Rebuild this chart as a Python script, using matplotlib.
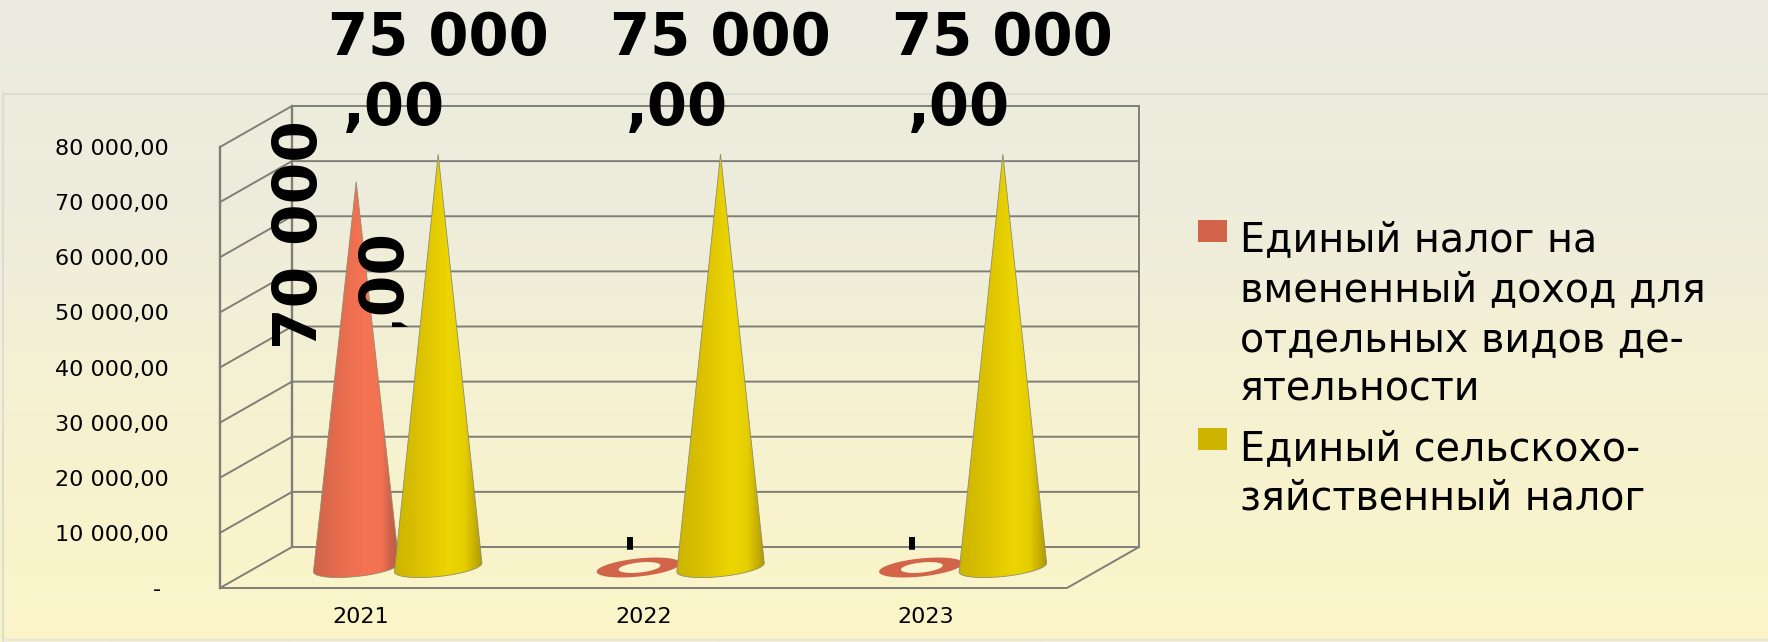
import numpy as np
import matplotlib
matplotlib.use("Agg")
import matplotlib.pyplot as plt
from matplotlib.colors import LinearSegmentedColormap
from matplotlib.patches import Polygon, Rectangle
from matplotlib.transforms import Bbox, IdentityTransform, TransformedBbox

plt.rcParams['font.family'] = ['DejaVu Sans']

# data
years = ["2021", "2022", "2023"]
envd = [70000, 0, 0]
eshn = [75000, 75000, 75000]
y_ticks = [0, 10000, 20000, 30000, 40000, 50000, 60000, 70000, 80000]
y_tick_labels = ["- ", "10 000,00", "20 000,00", "30 000,00", "40 000,00",
                 "50 000,00", "60 000,00", "70 000,00", "80 000,00"]
legend_names = ["Единый налог на\nвмененный доход для\nотдельных видов де-\nятельности",
                "Единый сельскохо-\nзяйственный налог"]

W, H = 1768, 642
GRID = "#7f7f78"
INK = "#000000"
stops = [0, 0.3, 0.62, 0.8, 0.93, 1]
red_cmap = LinearSegmentedColormap.from_list("r", list(zip(stops, ["#d2644a", "#e56c4e", "#f57453", "#f27252", "#c9604a", "#bb5a45"])))
yel_cmap = LinearSegmentedColormap.from_list("y", list(zip(stops, ["#cdb400", "#dcc200", "#ecd500", "#e6cf00", "#c4ac00", "#ad9a00"])))

fig = plt.figure(figsize=(W / 100, H / 100), dpi=100)

# background gradient
bg = fig.add_axes([0, 0, 1, 1], zorder=0)
bg.imshow(np.linspace(0, 1, 256).reshape(-1, 1), aspect="auto", extent=(0, W, H, 0),
          cmap=LinearSegmentedColormap.from_list("bg", ["#ebebe0", "#eeeddc", "#f6f2d0", "#fbf5c8"]))
bg.plot([3, W], [94, 94], color="#dcdcd6", lw=1.5)
bg.plot([3, 3], [94, H], color="#dcdcd6", lw=1.5)
bg.plot([3, W], [640, 640], color="#e4e4dc", lw=1.5)
bg.set_xlim(0, W)
bg.set_ylim(H, 0)
bg.axis("off")

# front plane of the 3d box
X0, X1, Y0, Y1 = 220, 1067, 588, 147
ax = fig.add_axes([X0 / W, 1 - Y0 / H, (X1 - X0) / W, (Y0 - Y1) / H], zorder=1)
ax.patch.set_alpha(0)
ax.set_xlim(0, 3)
ax.set_ylim(0, 80000)
for s in ax.spines.values():
    s.set_visible(False)
PX = 3 / (X1 - X0)
PY = 80000 / (Y0 - Y1)
DX, DY = 72 * PX, 41 * PY

for v in y_ticks:
    ax.plot([0, DX, 3 + DX], [v, v + DY, v + DY], color=GRID, lw=1.4, clip_on=False, zorder=1)
ax.plot([0, 0], [0, 80000], color=GRID, lw=1.7, clip_on=False, zorder=1)
ax.plot([DX, DX], [DY, 80000 + DY], color=GRID, lw=1.7, clip_on=False, zorder=1)
ax.plot([3 + DX, 3 + DX], [DY, 80000 + DY], color=GRID, lw=1.4, clip_on=False, zorder=1)
ax.plot([0, 3, 3 + DX], [0, 0, DY], color=GRID, lw=1.4, clip_on=False, zorder=1)

ax.set_yticks(y_ticks, y_tick_labels, fontsize=16, color=INK)
ax.set_xticks(np.arange(3) + 0.5, years, fontsize=16, color=INK)
ax.tick_params(axis="y", length=0, pad=37)
ax.tick_params(axis="x", length=0, pad=14)


def ellipse(cx, cy, a, b, start=0, stop=360, tilt=6):
    t = np.radians(np.linspace(start, stop, 90))
    th = np.radians(tilt)
    ex = a * np.cos(t)
    ey = b * np.sin(t)
    return np.column_stack([cx + (ex * np.cos(th) - ey * np.sin(th)) * PX,
                            cy + (ex * np.sin(th) + ey * np.cos(th)) * PY])


def cone(i, shift, value, cmap, a, z):
    cx = i + 0.5 + DX / 2 + shift * PX
    cy = DY / 2
    if value == 0:
        ax.add_patch(Polygon(ellipse(cx, cy, 42, 9), closed=True, fc=cmap(0.0), ec="none", zorder=z))
        ax.add_patch(Polygon(ellipse(cx + 1 * PX, cy, 21, 5), closed=True, fc="#fbf6cf", ec="none", zorder=z))
        return cx
    pts = np.vstack([[[cx, cy + value]], ellipse(cx, cy, a, 9, 180, 360)])
    poly = Polygon(pts, closed=True, fc="none", ec="#8f8f70", lw=0.6, zorder=z + 0.1)
    ax.add_patch(poly)
    im = ax.imshow(np.linspace(0, 1, 64).reshape(1, -1), aspect="auto", cmap=cmap, zorder=z,
                   extent=(cx - a * PX, cx + a * PX, 0, cy + value))
    im.set_clip_path(poly)
    return cx


big = dict(textcoords="offset pixels", fontweight="bold", family="DejaVu Sans", color=INK, zorder=6,
           annotation_clip=False)
for i, (a_val, b_val) in enumerate(zip(envd, eshn)):
    c1 = cone(i, -41, a_val, red_cmap, 43, 3)
    c2 = cone(i, 41, b_val, yel_cmap, 44, 4)
    # data labels
    lbl = f"{b_val:,.0f}".replace(",", " ")
    base = DY / 2 + b_val
    ax.annotate(lbl, xy=(c2, base), xytext=(0, 99), ha="center", va="baseline", fontsize=41.5, **big)
    ax.annotate(",00", xy=(c2, base), xytext=(-44, 29), ha="center", va="baseline", fontsize=41.5, **big)
    if a_val > 0:
        ax.annotate(f"{a_val:,.0f}".replace(",", " "), xy=(c1, DY / 2 + a_val), xytext=(-56, -53),
                    ha="center", va="center", rotation=90, fontsize=43, **big)
        t = ax.annotate(",00", xy=(c1, DY / 2 + a_val), xytext=(28, -100),
                        ha="center", va="center", rotation=90, fontsize=43, **big)
        t.set_clip_on(True)
        t.set_clip_box(TransformedBbox(Bbox([[340, H - 327], [440, H - 220]]), IdentityTransform()))
    else:
        ax.annotate("-", xy=(c1, DY / 2), xytext=(-10, 27), ha="center", va="center",
                    rotation=90, fontsize=30, **big)

ax.set_xlim(0, 3)
ax.set_ylim(0, 80000)

# legend
for name, col, top, txt_y in zip(legend_names, ["#d2644a", "#cdb400"], [220, 428], [220, 429]):
    fig.patches.append(Rectangle((1198 / W, 1 - (top + 22) / H), 29 / W, 22 / H, transform=fig.transFigure, fc=col, ec="none"))
    fig.text(1240 / W, 1 - txt_y / H, name, fontsize=28.5, color=INK, va="top", ha="left", linespacing=1.32)

fig.savefig("out.png", dpi=100)
